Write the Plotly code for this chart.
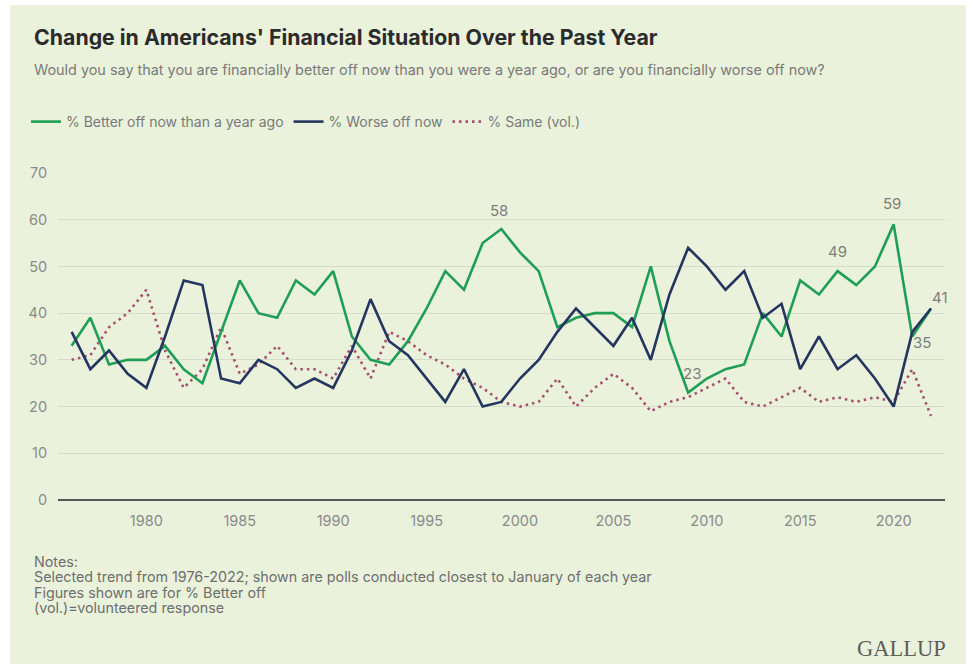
import plotly.graph_objects as go

years = list(range(1976, 2023))

better_off = [33, 39, 29, 30, 30, 33, 28, 25, 36, 47, 40, 39, 47, 44, 49,
              35, 30, 29, 34, 41, 49, 45, 55, 58, 53, 49, 37, 39, 40, 40,
              37, 50, 34, 23, 26, 28, 29, 40, 35, 47, 44, 49, 46, 50, 59,
              35, 41]

worse_off = [36, 28, 32, 27, 24, 35, 47, 46, 26, 25, 30, 28, 24, 26, 24,
             32, 43, 34, 31, 26, 21, 28, 20, 21, 26, 30, 36, 41, 37, 33,
             39, 30, 44, 54, 50, 45, 49, 39, 42, 28, 35, 28, 31, 26, 20,
             36, 41]

same_vol = [30, 31, 37, 40, 45, 32, 24, 28, 37, 27, 29, 33, 28, 28, 26,
            33, 26, 36, 34, 31, 29, 26, 24, 21, 20, 21, 26, 20, 24, 27,
            24, 19, 21, 22, 24, 26, 21, 20, 22, 24, 21, 22, 21, 22, 21,
            28, 18]

labeled_years = [1999, 2009, 2017, 2020, 2021, 2022]
# label offsets (pixels) relative to the labeled point
label_offsets = {1999: (-2, 19), 2009: (4, 19), 2017: (0, 20),
                 2020: (-2, 21), 2021: (10, -6), 2022: (9, 11)}

tick_years = [1980, 1985, 1990, 1995, 2000, 2005, 2010, 2015, 2020]
y_ticks = [0, 10, 20, 30, 40, 50, 60, 70]

notes = ["Notes:",
         "Selected trend from 1976-2022; shown are polls conducted closest to January of each year",
         "Figures shown are for % Better off",
         "(vol.)=volunteered response"]

GREEN = "#1f9e55"
NAVY = "#24365f"
MAROON = "#a8506f"
BG = "#eaf2dc"
GRAY = "#7a7a7a"
FONT = "Inter"

fig = go.Figure()
fig.add_trace(go.Scatter(
    x=years, y=same_vol, name="% Same (vol.)", legendrank=3,
    mode="lines", line=dict(color=MAROON, width=2.6, dash="2.5px,4px"), cliponaxis=False,
))
fig.add_trace(go.Scatter(
    x=years, y=better_off, name="% Better off now than a year ago", legendrank=1,
    mode="lines", line=dict(color=GREEN, width=2.6), cliponaxis=False,
))
fig.add_trace(go.Scatter(
    x=years, y=worse_off, name="% Worse off now", legendrank=2,
    mode="lines", line=dict(color=NAVY, width=2.6), cliponaxis=False,
))

for yr in labeled_years:
    v = better_off[years.index(yr)]
    dx, dy = label_offsets[yr]
    fig.add_annotation(x=yr, y=v, xref="x", yref="y", text=str(v), showarrow=False,
                       xanchor="center", yanchor="middle", xshift=dx, yshift=dy,
                       font=dict(family=FONT, size=15, color="#7d7d7d"))

L, R, T, B = 58, 28, 173, 164
W, H = 973, 664
pw, ph = W - L - R, H - T - B

def px(x):
    return (x - L) / pw

def py(y):
    return (H - B - y) / ph

fig.add_shape(type="rect", xref="paper", yref="paper",
              x0=px(10), x1=px(966), y0=py(664), y1=py(5),
              fillcolor=BG, line=dict(width=0), layer="below")

fig.add_annotation(xref="paper", yref="paper", x=px(32), y=py(37),
                   xanchor="left", yanchor="middle", showarrow=False,
                   text="<b>Change in Americans' Financial Situation Over the Past Year</b>",
                   font=dict(family=FONT, size=21.3, color="#2b2b2b"))
fig.add_annotation(xref="paper", yref="paper", x=px(32), y=py(70),
                   xanchor="left", yanchor="middle", showarrow=False,
                   text="Would you say that you are financially better off now than you were a year ago, or are you financially worse off now?",
                   font=dict(family=FONT, size=14.4, color=GRAY))
notes_text = "<br>".join('<span style="font-size:14.3px">%s</span>' % n for n in notes)
fig.add_annotation(xref="paper", yref="paper", x=px(32), y=py(551),
                   xanchor="left", yanchor="top", showarrow=False, align="left",
                   text=notes_text, font=dict(family=FONT, size=11.8, color="#6e6e6e"))
fig.add_annotation(xref="paper", yref="paper", x=px(948), y=py(648),
                   xanchor="right", yanchor="middle", showarrow=False,
                   text="GALLUP", font=dict(family="Liberation Serif", size=22.5, color="#5e5e5e"))

fig.update_layout(
    width=W, height=H,
    margin=dict(l=L, r=R, t=T, b=B, autoexpand=False),
    paper_bgcolor="white", plot_bgcolor=BG,
    font=dict(family=FONT, color=GRAY),
    showlegend=True,
    legend=dict(orientation="h", x=px(26), y=py(122), xanchor="left", yanchor="middle",
                font=dict(family=FONT, size=14, color=GRAY), bgcolor="rgba(0,0,0,0)",
                itemwidth=30),
    hovermode=False,
)
fig.update_xaxes(range=[1975.27, 2022.75], tickvals=tick_years, showgrid=False,
                 zeroline=False, showline=False, ticks="outside", ticklen=8,
                 tickcolor="rgba(0,0,0,0)", tickfont=dict(family=FONT, size=14.5, color="#8a8a8a"))
fig.update_yaxes(range=[0, 70], tickvals=y_ticks, showgrid=True, gridcolor="#d6dccb",
                 gridwidth=1, zeroline=True, zerolinecolor="#555555", zerolinewidth=2,
                 ticks="outside", ticklen=7, tickcolor="rgba(0,0,0,0)",
                 tickfont=dict(family=FONT, size=14.5, color="#8a8a8a"))

fig.write_html("out.html", config={"displayModeBar": False},
               post_script="document.body.style.margin='0';")
